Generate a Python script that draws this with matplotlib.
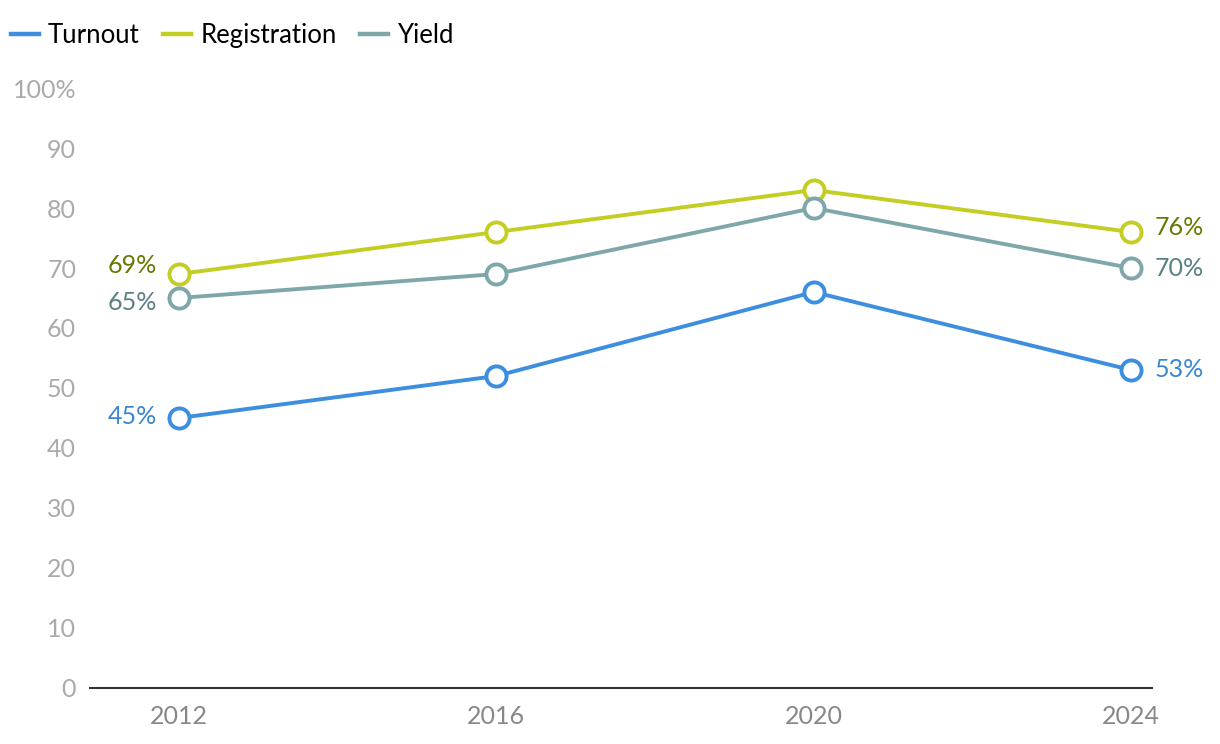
import matplotlib.pyplot as plt

years = [2012, 2016, 2020, 2024]
turnout = [45, 52, 66, 53]
registration = [69, 76, 83, 76]
yield_pct = [65, 69, 80, 70]

# name, values, line colour, label colour, vertical nudge of (first, last) labels in points
series = [
    ("Turnout", turnout, "#3d8ede", "#3a86cf", (1, 0)),
    ("Registration", registration, "#c3cd22", "#6a7800", (6, 3)),
    ("Yield", yield_pct, "#7fa7aa", "#5a7f85", (-3, 0)),
]

plt.rcParams['font.family'] = ['Lato', 'DejaVu Sans']

fig = plt.figure(figsize=(12.2, 7.44), dpi=100)
ax = fig.add_axes([0.0738, 0.0753, 0.8705, 0.8064])

for name, vals, col, tcol, nudge in series:
    ax.plot(years, vals, color=col, lw=2.8, marker="o", ms=14.5, mfc="white",
            mec=col, mew=2.8, label=name, zorder=3)
    ax.annotate(f"{vals[0]}%", (years[0], vals[0]), xytext=(-16, nudge[0]),
                textcoords="offset points", ha="right", va="center",
                fontsize=18, color=tcol)
    ax.annotate(f"{vals[-1]}%", (years[-1], vals[-1]), xytext=(17, nudge[1]),
                textcoords="offset points", ha="left", va="center",
                fontsize=18, color=tcol)

ax.set_xlim(2010.878, 2024.265)
ax.set_ylim(0, 100)
ax.set_xticks(years)
ax.set_xticklabels([str(y) for y in years])
ax.set_yticks(range(0, 101, 10))
ax.set_yticklabels([str(v) if v < 100 else "100%" for v in range(0, 101, 10)])
ax.tick_params(axis="y", length=0, pad=10, labelsize=18, labelcolor="#aaaaaa")
ax.tick_params(axis="x", length=0, pad=12, labelsize=18, labelcolor="#888888")
for s in ["top", "right", "left"]:
    ax.spines[s].set_visible(False)
ax.spines["bottom"].set_color("#333333")
ax.spines["bottom"].set_linewidth(1.5)

handles = [plt.Line2D([], [], color=c, lw=3.2) for _, _, c, _, _ in series]
fig.legend(handles, [s[0] for s in series], loc="upper left",
           bbox_to_anchor=(-0.008, 0.997), ncol=3, frameon=False, fontsize=18.5,
           handlelength=1.1, handletextpad=0.35, columnspacing=0.9,
           borderaxespad=0.4)

fig.savefig("out.png", dpi=100)
